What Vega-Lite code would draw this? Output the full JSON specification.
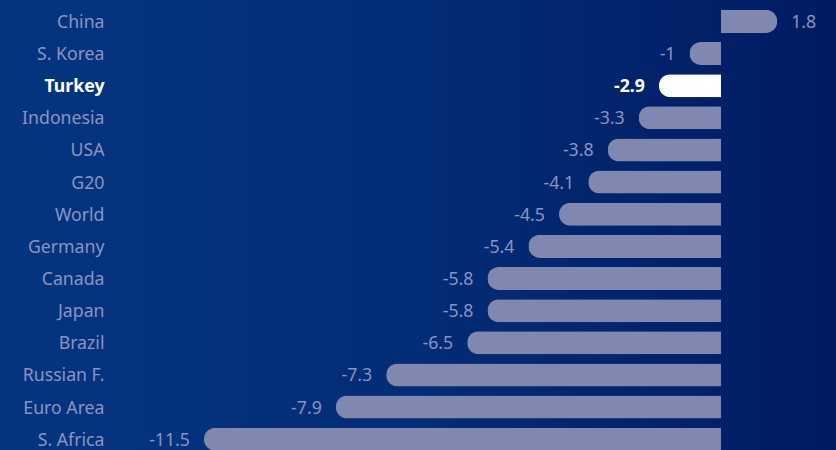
{
  "$schema": "https://vega.github.io/schema/vega-lite/v6.json",
  "width": 836,
  "height": 450,
  "padding": 0,
  "autosize": {"type": "none"},
  "background": "#05347e",
  "config": {
    "view": {"stroke": null, "fill": {"gradient": "linear", "x1": 0, "x2": 1, "y1": 0, "y2": 0, "stops": [{"offset": 0, "color": "#05357f"}, {"offset": 0.5, "color": "#032d76"}, {"offset": 1, "color": "#001b62"}]}},
    "text": {"font": "Noto Sans", "fontSize": 17.7, "dy": 1.5}
  },
  "data": {
    "values": [
      {"country": "China", "value": 1.8, "bar_length": 1.25},
      {"country": "S. Korea", "value": -1, "bar_length": -0.70},
      {"country": "Turkey", "value": -2.9, "bar_length": -1.38},
      {"country": "Indonesia", "value": -3.3, "bar_length": -1.83},
      {"country": "USA", "value": -3.8, "bar_length": -2.52},
      {"country": "G20", "value": -4.1, "bar_length": -2.95},
      {"country": "World", "value": -4.5, "bar_length": -3.6},
      {"country": "Germany", "value": -5.4, "bar_length": -4.28},
      {"country": "Canada", "value": -5.8, "bar_length": -5.19},
      {"country": "Japan", "value": -5.8, "bar_length": -5.19},
      {"country": "Brazil", "value": -6.5, "bar_length": -5.64},
      {"country": "Russian F.", "value": -7.3, "bar_length": -7.44},
      {"country": "Euro Area", "value": -7.9, "bar_length": -8.56},
      {"country": "S. Africa", "value": -11.5, "bar_length": -11.49}
    ]
  },
  "encoding": {
    "y": {"field": "country", "type": "nominal", "sort": null, "axis": null,
      "scale": {"domain": ["China", "S. Korea", "Turkey", "Indonesia", "USA", "G20", "World", "Germany", "Canada", "Japan", "Brazil", "Russian F.", "Euro Area", "S. Africa"],
        "range": [5.3, 455.3], "paddingInner": 0.284, "paddingOuter": 0.142}}
  },
  "layer": [
    {
      "transform": [{"filter": "datum.bar_length < 0"}],
      "mark": {"type": "bar", "cornerRadiusTopLeft": 11.5, "cornerRadiusBottomLeft": 11.5},
      "encoding": {
        "x": {"field": "bar_length", "type": "quantitative", "axis": null,
          "scale": {"domain": [-16.022, 2.556], "nice": false, "zero": false}},
        "color": {"condition": {"test": "datum.country === 'Turkey'", "value": "#ffffff"}, "value": "#8088b0"}
      }
    },
    {
      "transform": [{"filter": "datum.bar_length >= 0"}],
      "mark": {"type": "bar", "cornerRadiusTopRight": 11.5, "cornerRadiusBottomRight": 11.5},
      "encoding": {
        "x": {"field": "bar_length", "type": "quantitative"},
        "color": {"value": "#8088b0"}
      }
    },
    {
      "mark": {"type": "text", "align": "right", "baseline": "middle",
        "fontWeight": {"expr": "datum.country === 'Turkey' ? 'bold' : 'normal'"}},
      "encoding": {
        "x": {"datum": -13.7},
        "text": {"field": "country"},
        "color": {"condition": {"test": "datum.country === 'Turkey'", "value": "#ffffff"}, "value": "#8a94c2"}
      }
    },
    {
      "transform": [{"filter": "datum.value < 0"}],
      "mark": {"type": "text", "align": "right", "baseline": "middle", "dx": -14,
        "fontWeight": {"expr": "datum.country === 'Turkey' ? 'bold' : 'normal'"}},
      "encoding": {
        "x": {"field": "bar_length", "type": "quantitative"},
        "text": {"field": "value", "type": "nominal"},
        "color": {"condition": {"test": "datum.country === 'Turkey'", "value": "#ffffff"}, "value": "#8a94c2"}
      }
    },
    {
      "transform": [{"filter": "datum.value >= 0"}],
      "mark": {"type": "text", "align": "left", "baseline": "middle", "dx": 14},
      "encoding": {
        "x": {"field": "bar_length", "type": "quantitative"},
        "text": {"field": "value", "type": "nominal"},
        "color": {"value": "#8a94c2"}
      }
    }
  ]
}
